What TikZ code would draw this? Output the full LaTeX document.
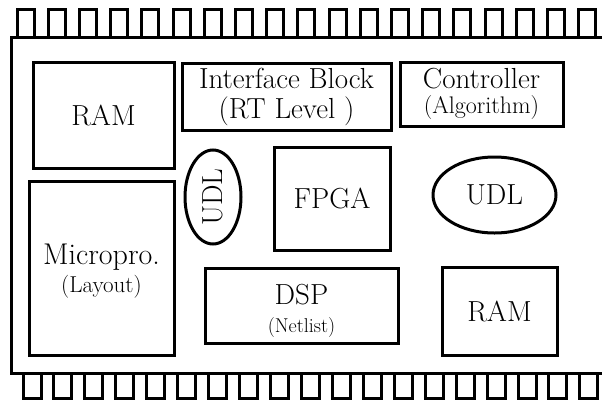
\documentclass[tikz,border=0pt]{standalone}
\usetikzlibrary{shapes.geometric}
\begin{document}
\begin{tikzpicture}[x=1pt,y=-1pt,line width=3pt,
  box/.style={draw,rectangle,inner sep=0pt,align=center},
  oval/.style={draw,ellipse,inner sep=0pt,align=center},
  big/.style={font=\fontsize{29}{30}\selectfont}]
\useasboundingbox (0,0) rectangle (602,402);
\clip (0,0) rectangle (602,402);
% chip body
\draw (612,37) -- (11,37) -- (11,373) -- (612,373);
% pins
\foreach \i in {0,...,18}{
  \pgfmathsetmacro\xa{17+31.2*\i}
  \draw (\xa,37) -- (\xa,9) -- (\xa+17,9) -- (\xa+17,37);
  \pgfmathsetmacro\xb{23+30.94*\i}
  \draw (\xb,373) -- (\xb,398) -- (\xb+18,398) -- (\xb+18,373);
}
% blocks
\node[box,big,minimum width=141pt,minimum height=106pt] (ram1) at (103.5,115) {RAM};
\node[box,big,minimum width=209pt,minimum height=67pt] (iface) at (286.5,96.5)
  {Interface Block\\(RT Level )};
\node[box,font=\fontsize{29}{25}\selectfont,minimum width=163pt,minimum height=64pt] (ctrl) at (481.5,94)
  {Controller\\{\fontsize{24}{25}\selectfont (Algorithm)}};
\node[box,minimum width=145pt,minimum height=174pt] (micro) at (101.5,268) {};
\node[align=center,inner sep=0pt,font=\fontsize{30}{28}\selectfont] (microtxt) at ([yshift=-3pt]micro.center)
  {Micropro.\\{\fontsize{23}{28}\selectfont (Layout)}};
\node[oval,big,rotate=90,minimum width=94pt,minimum height=56pt] (udl1) at (213,197) {UDL};
\node[box,big,minimum width=116pt,minimum height=103pt] (fpga) at (332,198.5) {FPGA};
\node[box,minimum width=193pt,minimum height=75pt] (dsp) at (301.5,305.5) {};
\node[align=center,inner sep=0pt,font=\fontsize{29}{28}\selectfont] (dsptxt) at ([yshift=-5pt]dsp.center)
  {DSP\\{\fontsize{20}{28}\selectfont (Netlist)}};
\node[oval,big,minimum width=123pt,minimum height=76pt] (udl2) at (494.5,195) {UDL};
\node[box,big,minimum width=115pt,minimum height=88pt] (ram2) at (499.5,311) {RAM};
\end{tikzpicture}
\end{document}
